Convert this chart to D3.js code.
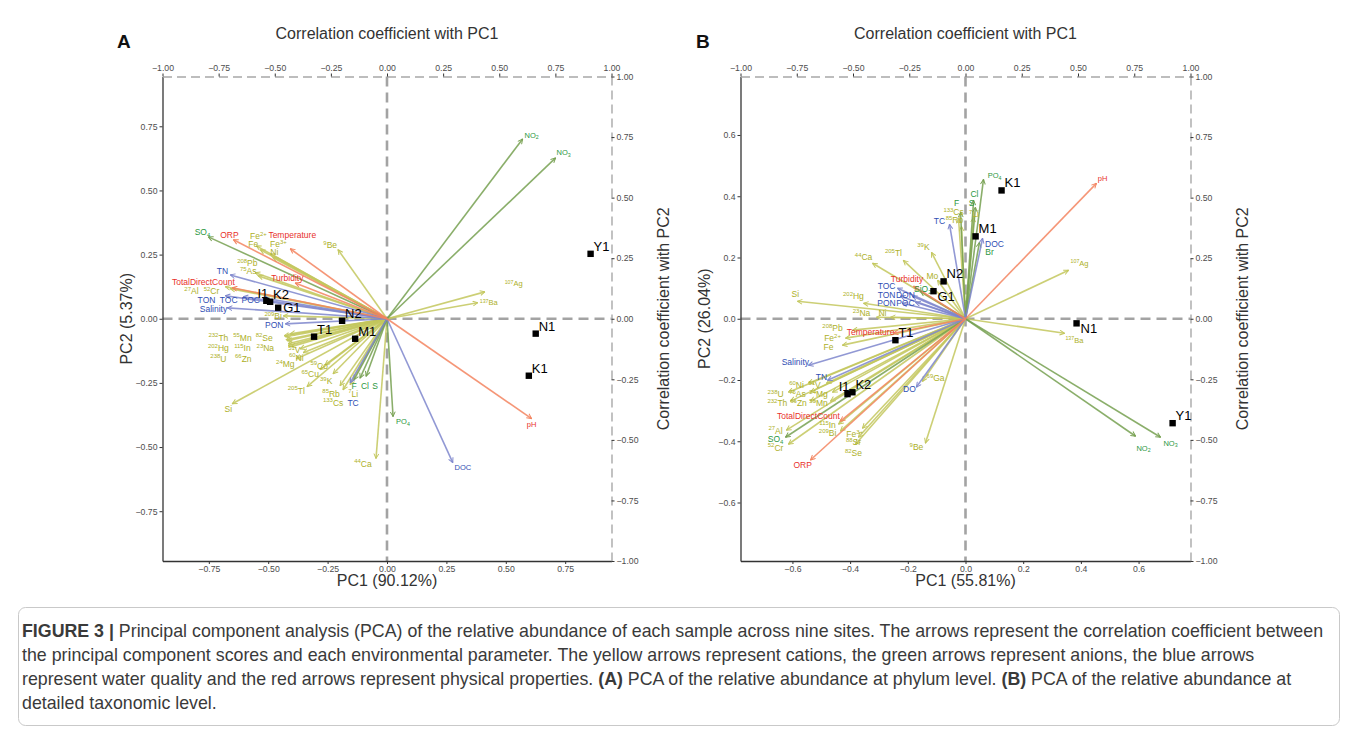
<!DOCTYPE html>
<html>
<head>
<meta charset="utf-8">
<script src="https://cdn.jsdelivr.net/npm/d3@7"></script>
<style>
  body { margin: 0; background: #fff; }
  svg { font-family: "Liberation Sans", Arial, Helvetica, sans-serif; }
</style>
</head>
<body>
<svg id="chart" width="1358" height="734"></svg>
<script>
// ---- data ----
const sampleNames = ['I1', 'K2', 'G1', 'N2', 'T1', 'M1', 'Y1', 'N1', 'K1'];
const pc1ScoreA = [-0.508, -0.492, -0.458, -0.189, -0.307, -0.134, 0.857, 0.626, 0.597];
const pc2ScoreA = [0.070, 0.066, 0.043, -0.008, -0.070, -0.078, 0.253, -0.058, -0.222];
const pc1ScoreB = [-0.409, -0.392, -0.111, -0.076, -0.243, 0.035, 0.718, 0.385, 0.125];
const pc2ScoreB = [-0.246, -0.240, 0.090, 0.122, -0.070, 0.269, -0.341, -0.015, 0.419];
const sampleLabelSideA = ['left', 'up', 'right', 'up', 'up', 'up', 'up', 'up', 'up'];
const sampleLabelSideB = ['left', 'up', 'down', 'up', 'up', 'up', 'up', 'down', 'up'];

// panel A: environmental parameters (c = cation, a = anion, w = water quality, p = physical)
const varNamesA = ['Fe2+', 'Fe', 'Fe3+', 'Ni', '9Be', '208Pb', '75As', '27Al', '52Cr', '209Bi',
  '232Th', '55Mn', '82Se', '202Hg', '115In', '23Na', '238U', '66Zn', '51V', '60Ni',
  '24Mg', '59Co', '65Cu', '39K', '205Tl', 'Si', '85Rb', '133Cs', '7Li', '44Ca', '107Ag', '137Ba',
  'SO4', 'F', 'Cl', 'S', 'PO4', 'NO2', 'NO3',
  'TN', 'TON', 'TOC', 'POC', 'Salinity', 'PON', 'TC', 'DOC',
  'ORP', 'Temperature', 'Turbidity', 'TotalDirectCount', 'pH'];
const varGroupA = ['c', 'c', 'c', 'c', 'c', 'c', 'c', 'c', 'c', 'c',
  'c', 'c', 'c', 'c', 'c', 'c', 'c', 'c', 'c', 'c',
  'c', 'c', 'c', 'c', 'c', 'c', 'c', 'c', 'c', 'c', 'c', 'c',
  'a', 'a', 'a', 'a', 'a', 'a', 'a',
  'w', 'w', 'w', 'w', 'w', 'w', 'w', 'w',
  'p', 'p', 'p', 'p', 'p'];
const corPC1A = [-0.582, -0.564, -0.52, -0.507, -0.218, -0.587, -0.573, -0.72, -0.698, -0.462,
  -0.458, -0.453, -0.431, -0.449, -0.444, -0.44, -0.44, -0.427, -0.387, -0.373,
  -0.404, -0.276, -0.298, -0.24, -0.356, -0.689, -0.209, -0.196, -0.164, -0.049, 0.436, 0.404,
  -0.796, -0.147, -0.12, -0.093, 0.027, 0.604, 0.751,
  -0.698, -0.72, -0.64, -0.556, -0.711, -0.453, -0.164, 0.293,
  -0.684, -0.431, -0.409, -0.689, 0.644];
const corPC2A = [0.301, 0.285, 0.268, 0.252, 0.285, 0.190, 0.177, 0.132, 0.124, 0.012,
  -0.070, -0.074, -0.062, -0.087, -0.091, -0.103, -0.111, -0.115, -0.124, -0.140,
  -0.165, -0.190, -0.210, -0.227, -0.280, -0.351, -0.276, -0.293, -0.272, -0.577, 0.111, 0.066,
  0.338, -0.252, -0.245, -0.237, -0.404, 0.742, 0.664,
  0.181, 0.095, 0.091, 0.087, 0.045, -0.021, -0.264, -0.594,
  0.326, 0.289, 0.148, 0.128, -0.412];
const labelPC1A = [-0.573, -0.596, -0.484, -0.502, -0.253, -0.622, -0.618, -0.871, -0.782, -0.507,
  -0.751, -0.644, -0.547, -0.751, -0.644, -0.542, -0.751, -0.64, -0.413, -0.404,
  -0.453, -0.302, -0.342, -0.271, -0.404, -0.707, -0.249, -0.24, -0.151, -0.107, 0.564, 0.453,
  -0.822, -0.147, -0.098, -0.053, 0.071, 0.644, 0.787,
  -0.733, -0.804, -0.705, -0.607, -0.773, -0.502, -0.151, 0.338,
  -0.702, -0.422, -0.444, -0.818, 0.644];
const labelPC2A = [0.342, 0.309, 0.309, 0.276, 0.305, 0.231, 0.198, 0.115, 0.115, 0.012,
  -0.078, -0.078, -0.078, -0.120, -0.120, -0.120, -0.165, -0.165, -0.128, -0.161,
  -0.186, -0.194, -0.228, -0.256, -0.297, -0.371, -0.309, -0.346, -0.309, -0.598, 0.144, 0.066,
  0.359, -0.276, -0.276, -0.276, -0.425, 0.759, 0.685,
  0.198, 0.078, 0.078, 0.078, 0.041, -0.025, -0.346, -0.614,
  0.346, 0.346, 0.169, 0.153, -0.437];
const smallLabelsA = ['107Ag', '137Ba', 'NO2', 'NO3', 'pH', 'DOC', 'PO4'];

// panel B
const varNamesB = ['Fe2+', 'Fe', 'Fe3+', 'Ni', '9Be', '208Pb', '75As', '27Al', '52Cr', '209Bi',
  '232Th', '55Mn', '82Se', '202Hg', '115In', '23Na', '238U', '66Zn', '51V', '60Ni',
  '24Mg', '39K', '205Tl', 'Si', '85Rb', '133Cs', '7Li', '44Ca', '107Ag', '137Ba', '88Sr', '69Ga', 'Mo',
  'SO4', 'F', 'Cl', 'S', 'PO4', 'Br', 'SiO2', 'NO2', 'NO3',
  'TN', 'TON', 'DON', 'TOC', 'POC', 'PON', 'Salinity', 'TC', 'DOC', 'DO',
  'ORP', 'Temperature', 'Turbidity', 'TotalDirectCount', 'pH'];
const varGroupB = ['c', 'c', 'c', 'c', 'c', 'c', 'c', 'c', 'c', 'c',
  'c', 'c', 'c', 'c', 'c', 'c', 'c', 'c', 'c', 'c',
  'c', 'c', 'c', 'c', 'c', 'c', 'c', 'c', 'c', 'c', 'c', 'c', 'c',
  'a', 'a', 'a', 'a', 'a', 'a', 'a', 'a', 'a',
  'w', 'w', 'w', 'w', 'w', 'w', 'w', 'w', 'w', 'w',
  'p', 'p', 'p', 'p', 'p'];
const corPC1B = [-0.533, -0.547, -0.458, -0.333, -0.178, -0.502, -0.689, -0.796, -0.787, -0.556,
  -0.778, -0.6, -0.489, -0.453, -0.564, -0.396, -0.787, -0.689, -0.618, -0.698,
  -0.591, -0.151, -0.276, -0.747, -0.018, -0.031, 0.036, -0.413, 0.458, 0.44, -0.476, -0.191, -0.124,
  -0.8, -0.022, 0.036, 0.044, 0.08, 0.062, -0.2, 0.756, 0.867,
  -0.613, -0.289, -0.236, -0.302, -0.222, -0.28, -0.698, -0.071, 0.076, -0.218,
  -0.689, -0.32, -0.231, -0.556, 0.582];
const corPC2B = [-0.080, -0.109, -0.452, 0.006, -0.513, -0.047, -0.303, -0.460, -0.518, -0.464,
  -0.340, -0.340, -0.518, 0.064, -0.435, 0.006, -0.303, -0.340, -0.266, -0.266,
  -0.303, 0.274, 0.241, 0.072, 0.381, 0.414, 0.419, 0.229, 0.200, -0.060, -0.489, -0.258, 0.159,
  -0.489, 0.439, 0.489, 0.460, 0.575, 0.315, 0.113, -0.485, -0.489,
  -0.254, 0.093, 0.093, 0.126, 0.068, 0.064, -0.192, 0.390, 0.332, -0.282,
  -0.583, -0.06, 0.134, -0.423, 0.559];
const labelPC1B = [-0.591, -0.609, -0.493, -0.369, -0.218, -0.591, -0.747, -0.844, -0.844, -0.613,
  -0.836, -0.653, -0.498, -0.498, -0.613, -0.462, -0.844, -0.742, -0.671, -0.751,
  -0.653, -0.187, -0.32, -0.756, -0.049, -0.053, 0.038, -0.453, 0.507, 0.484, -0.498, -0.133, -0.147,
  -0.844, -0.04, 0.04, 0.027, 0.129, 0.107, -0.19, 0.791, 0.911,
  -0.64, -0.351, -0.267, -0.351, -0.267, -0.351, -0.756, -0.116, 0.129, -0.249,
  -0.724, -0.422, -0.26, -0.698, 0.609];
const labelPC2B = [-0.080, -0.118, -0.476, 0.023, -0.530, -0.039, -0.311, -0.462, -0.532, -0.472,
  -0.348, -0.348, -0.555, 0.093, -0.439, 0.023, -0.311, -0.348, -0.274, -0.274,
  -0.311, 0.295, 0.270, 0.101, 0.406, 0.439, 0.433, 0.254, 0.229, -0.089, -0.509, -0.245, 0.175,
  -0.497, 0.476, 0.514, 0.477, 0.592, 0.275, 0.124, -0.534, -0.513,
  -0.241, 0.099, 0.099, 0.136, 0.066, 0.066, -0.179, 0.402, 0.310, -0.291,
  -0.604, -0.056, 0.163, -0.402, 0.579];
const smallLabelsB = ['107Ag', '137Ba', 'NO2', 'NO3', 'pH', 'PO4'];

const corTicks = [-1, -0.75, -0.5, -0.25, 0, 0.25, 0.5, 0.75, 1];
const pcTicksA = [-0.75, -0.5, -0.25, 0, 0.25, 0.5, 0.75];
const pcTicksB = [-0.6, -0.4, -0.2, 0, 0.2, 0.4, 0.6];

const captionLines = [
  [['FIGURE 3 |', true], [' Principal component analysis (PCA) of the relative abundance of each sample across nine sites. The arrows represent the correlation coefficient between', false]],
  [['the principal component scores and each environmental parameter. The yellow arrows represent cations, the green arrows represent anions, the blue arrows', false]],
  [['represent water quality and the red arrows represent physical properties. ', false], ['(A)', true], [' PCA of the relative abundance at phylum level. ', false], ['(B)', true], [' PCA of the relative abundance at', false]],
  [['detailed taxonomic level.', false]]
];

// ---- styles ----
const arrowColor = { c: '#c3c75d', a: '#76a050', w: '#7e86cc', p: '#f3845f' };
const textColor = { c: '#adb028', a: '#2b9740', w: '#2f4db3', p: '#e8312b' };

const svg = d3.select('#chart');
const defs = svg.append('defs');
Object.keys(arrowColor).forEach(k => {
  defs.append('marker')
    .attr('id', 'head-' + k)
    .attr('viewBox', '0 0 10 10')
    .attr('refX', 9).attr('refY', 5)
    .attr('markerWidth', 6).attr('markerHeight', 6)
    .attr('markerUnits', 'userSpaceOnUse')
    .attr('orient', 'auto')
    .append('path')
    .attr('d', 'M1,1 L9,5 L1,9')
    .attr('fill', 'none')
    .attr('stroke', arrowColor[k])
    .attr('stroke-width', 1.6);
});

// split "27Al" / "Fe2+" / "SO4" into normal + super/subscript parts
function splitLabel(name) {
  let m = name.match(/^(\d+)(\D.*)$/);
  if (m) return [{ t: m[1], s: 'sup' }, { t: m[2] }];
  m = name.match(/^(Fe)(\d\+)$/);
  if (m) return [{ t: m[1] }, { t: m[2], s: 'sup' }];
  m = name.match(/^([A-Za-z]*O)(\d)$/);
  if (m) return [{ t: m[1] }, { t: m[2], s: 'sub' }];
  return [{ t: name }];
}

function richText(sel, name, fs) {
  const parts = splitLabel(name);
  let shift = 0;
  parts.forEach(p => {
    const ts = sel.append('tspan').text(p.t);
    let target = 0;
    if (p.s === 'sup') { ts.attr('font-size', fs * 0.7); target = -0.38 * fs; }
    if (p.s === 'sub') { ts.attr('font-size', fs * 0.7); target = 0.22 * fs; }
    if (target !== shift) ts.attr('dy', target - shift);
    shift = target;
  });
}

function drawPanel(p) {
  const g = svg.append('g');
  const corX = d3.scaleLinear().domain([-1, 1]).range([p.left, p.right]);
  const corY = d3.scaleLinear().domain([-1, 1]).range([p.bottom, p.top]);
  const pcX = d3.scaleLinear().domain(p.pcDomX).range([p.left, p.right]);
  const pcY = d3.scaleLinear().domain(p.pcDomY).range([p.bottom, p.top]);
  const f2 = d3.format('.2f'), f1 = d3.format('.1f');

  // zero reference lines
  g.append('line')
    .attr('x1', corX(0)).attr('x2', corX(0)).attr('y1', p.top).attr('y2', p.bottom)
    .attr('stroke', '#a3a3a3').attr('stroke-width', 2.6).attr('stroke-dasharray', '10,6');
  g.append('line')
    .attr('x1', p.left).attr('x2', p.right).attr('y1', corY(0)).attr('y2', corY(0))
    .attr('stroke', '#a3a3a3').attr('stroke-width', 2.6).attr('stroke-dasharray', '10,6');

  // axes
  const styleAxis = (ax, dashed) => {
    ax.selectAll('.tick line').attr('stroke', '#333');
    ax.selectAll('.tick text').attr('font-size', 8.7).attr('fill', '#4d4d4d')
      .attr('font-family', '"Liberation Sans", Arial, sans-serif');
    ax.select('.domain')
      .attr('stroke', dashed ? '#a8a8a8' : '#333')
      .attr('stroke-width', dashed ? 1.4 : 1.3)
      .attr('stroke-dasharray', dashed ? '9,5' : null);
  };
  const bx = g.append('g').attr('transform', `translate(0,${p.bottom})`)
    .call(d3.axisBottom(pcX).tickValues(p.pcTicks).tickFormat(p.pcFmt === 1 ? f1 : f2)
      .tickSize(3).tickSizeOuter(0).tickPadding(2));
  styleAxis(bx, false);
  const ly = g.append('g').attr('transform', `translate(${p.left},0)`)
    .call(d3.axisLeft(pcY).tickValues(p.pcTicks).tickFormat(p.pcFmt === 1 ? f1 : f2)
      .tickSize(3).tickSizeOuter(0).tickPadding(2));
  styleAxis(ly, false);
  const tx = g.append('g').attr('transform', `translate(0,${p.top})`)
    .call(d3.axisTop(corX).tickValues(corTicks).tickFormat(f2)
      .tickSize(3).tickSizeOuter(0).tickPadding(3));
  styleAxis(tx, true);
  const ry = g.append('g').attr('transform', `translate(${p.right},0)`)
    .call(d3.axisRight(corY).tickValues(corTicks).tickFormat(f2)
      .tickSize(3).tickSizeOuter(0).tickPadding(2));
  styleAxis(ry, true);

  // arrows
  const vars = p.names.map((n, i) => ({
    name: n, group: p.groups[i], x: p.cor1[i], y: p.cor2[i], lx: p.lab1[i], ly: p.lab2[i]
  }));
  g.append('g').selectAll('line').data(vars).join('line')
    .attr('x1', corX(0)).attr('y1', corY(0))
    .attr('x2', d => corX(d.x)).attr('y2', d => corY(d.y))
    .attr('stroke', d => arrowColor[d.group])
    .attr('stroke-width', 1.6)
    .attr('stroke-opacity', 0.85)
    .attr('marker-end', d => `url(#head-${d.group})`);

  // variable labels
  vars.forEach(d => {
    const fs = p.small.includes(d.name) ? 7.5 : 8.5;
    const t = g.append('text')
      .attr('x', corX(d.lx)).attr('y', corY(d.ly) + fs * 0.35)
      .attr('text-anchor', 'middle')
      .attr('font-size', fs)
      .attr('fill', textColor[d.group]);
    richText(t, d.name, fs);
  });

  // sample points
  sampleNames.forEach((s, i) => {
    const x = pcX(p.s1[i]), y = pcY(p.s2[i]);
    g.append('rect').attr('x', x - 3.2).attr('y', y - 3.2)
      .attr('width', 6.4).attr('height', 6.4).attr('fill', '#000');
    const side = p.side[i];
    const lab = g.append('text').attr('font-size', 13).attr('fill', '#000').text(s);
    if (side === 'left') lab.attr('x', x + 2).attr('y', y - 3).attr('text-anchor', 'end');
    else if (side === 'right') lab.attr('x', x + 5).attr('y', y + 4.5);
    else if (side === 'down') lab.attr('x', x + 4).attr('y', y + 9.5);
    else lab.attr('x', x + 3).attr('y', y - 3);
  });

  // titles
  const cx = (p.left + p.right) / 2, cy = (p.top + p.bottom) / 2;
  g.append('text').attr('x', cx).attr('y', 39).attr('text-anchor', 'middle')
    .attr('font-size', 16).attr('fill', '#333').text('Correlation coefficient with PC1');
  g.append('text').attr('x', cx).attr('y', 586).attr('text-anchor', 'middle')
    .attr('font-size', 16).attr('fill', '#333').text(p.xTitle);
  g.append('text').attr('transform', `translate(${p.left - 31},${cy}) rotate(-90)`)
    .attr('text-anchor', 'middle').attr('font-size', 16).attr('fill', '#333').text(p.yTitle);
  g.append('text').attr('transform', `translate(${p.right + 57},${cy}) rotate(-90)`)
    .attr('text-anchor', 'middle').attr('font-size', 16).attr('fill', '#333')
    .text('Correlation coefficient with PC2');
  g.append('text').attr('x', p.letterX).attr('y', 48).attr('font-size', 19)
    .attr('font-weight', 'bold').attr('fill', '#111').text(p.letter);
}

drawPanel({
  left: 162.5, right: 611.5, top: 76.5, bottom: 561,
  pcDomX: [-0.945, 0.945], pcDomY: [-0.944, 0.944], pcTicks: pcTicksA, pcFmt: 2,
  names: varNamesA, groups: varGroupA, cor1: corPC1A, cor2: corPC2A,
  lab1: labelPC1A, lab2: labelPC2A, small: smallLabelsA,
  s1: pc1ScoreA, s2: pc2ScoreA, side: sampleLabelSideA,
  xTitle: 'PC1 (90.12%)', yTitle: 'PC2 (5.37%)', letter: 'A', letterX: 117
});
drawPanel({
  left: 740.5, right: 1190.5, top: 76.5, bottom: 561,
  pcDomX: [-0.78, 0.78], pcDomY: [-0.791, 0.791], pcTicks: pcTicksB, pcFmt: 1,
  names: varNamesB, groups: varGroupB, cor1: corPC1B, cor2: corPC2B,
  lab1: labelPC1B, lab2: labelPC2B, small: smallLabelsB,
  s1: pc1ScoreB, s2: pc2ScoreB, side: sampleLabelSideB,
  xTitle: 'PC1 (55.81%)', yTitle: 'PC2 (26.04%)', letter: 'B', letterX: 696
});

// caption box
svg.append('rect').attr('x', 18.5).attr('y', 607.5).attr('width', 1321).attr('height', 118)
  .attr('rx', 7).attr('fill', 'none').attr('stroke', '#c9c9c9').attr('stroke-width', 1);
captionLines.forEach((line, i) => {
  const t = svg.append('text').attr('x', 22).attr('y', 637 + i * 24)
    .attr('font-size', 17.8).attr('fill', '#3a3a3a');
  line.forEach(([s, bold]) => {
    t.append('tspan').attr('font-weight', bold ? 'bold' : null).text(s);
  });
});
</script>
</body>
</html>
